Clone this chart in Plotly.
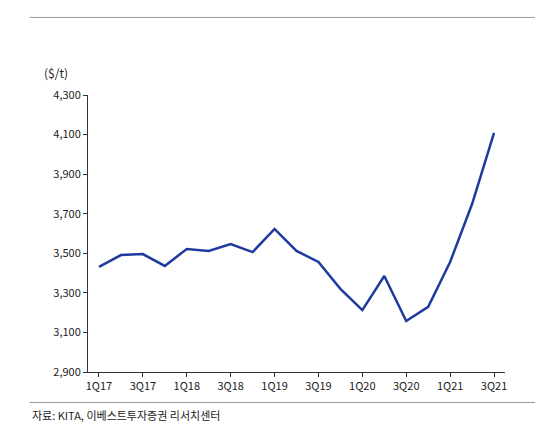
import plotly.graph_objects as go

quarters = ['1Q17', '2Q17', '3Q17', '4Q17', '1Q18', '2Q18', '3Q18', '4Q18',
            '1Q19', '2Q19', '3Q19', '4Q19', '1Q20', '2Q20', '3Q20', '4Q20',
            '1Q21', '2Q21', '3Q21']
price = [3431, 3491, 3496, 3436, 3522, 3512, 3547, 3506,
         3623, 3512, 3456, 3320, 3213, 3385, 3158, 3229,
         3456, 3749, 4108]
shown_ticks = quarters[::2]
y_ticks = [2900, 3100, 3300, 3500, 3700, 3900, 4100, 4300]

font = 'Noto Sans CJK KR'
fig = go.Figure()
fig.add_trace(go.Scatter(x=quarters, y=price, mode='lines',
                         line=dict(color='#1f3a9e', width=2.5)))

fig.update_layout(
    width=543, height=439, plot_bgcolor='white', paper_bgcolor='white',
    margin=dict(l=80, r=46, t=87, b=75), showlegend=False,
    font=dict(family=font, size=11, color='#222'),
    xaxis=dict(tickvals=shown_ticks, ticks='outside', ticklen=4, tickcolor='#333',
               showline=True, linecolor='#333', showgrid=False, range=[-0.5, 18.5]),
    yaxis=dict(range=[2900, 4300], tickvals=y_ticks, tickformat=',', ticks='outside',
               ticklen=4, tickcolor='#333', showline=True, linecolor='#333', showgrid=False),
)
fig.add_annotation(text='그림8 <span style="color:#000">PET 타이어코드 가격 추이</span>',
                   xref='paper', yref='paper', x=-0.14, y=1.33, xanchor='left',
                   yanchor='bottom', showarrow=False, font=dict(size=16, color='#888', family=font))
fig.add_shape(type='line', xref='paper', yref='paper', x0=-0.14, x1=1.11,
              y0=1.28, y1=1.28, line=dict(color='#999', width=1))
fig.add_annotation(text='($/t)', xref='paper', yref='paper', x=-0.11, y=1.12,
                   xanchor='left', showarrow=False, font=dict(size=12))
fig.add_shape(type='line', xref='paper', yref='paper', x0=-0.14, x1=1.11,
              y0=-0.11, y1=-0.11, line=dict(color='#999', width=1))
fig.add_annotation(text='자료: KITA, 이베스트투자증권 리서치센터', xref='paper', yref='paper',
                   x=-0.14, y=-0.12, xanchor='left', yanchor='top', showarrow=False,
                   font=dict(size=11))
fig.write_html('out.html')
